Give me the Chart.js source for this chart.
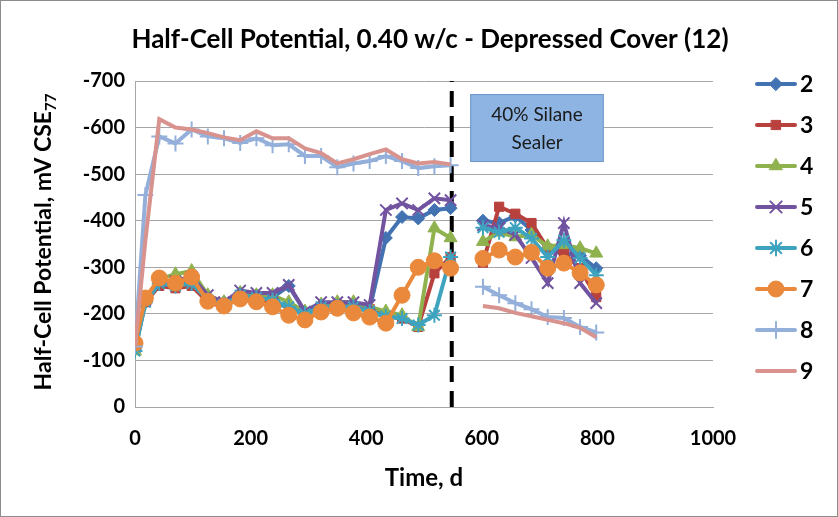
<!DOCTYPE html>
<html>
<head>
<meta charset="utf-8">
<script src="https://cdn.jsdelivr.net/npm/chart.js@4/dist/chart.umd.min.js"></script>
<style>
  html, body { margin: 0; padding: 0; background: #fff; }
  #wrap { width: 838px; height: 517px; }
</style>
</head>
<body>
<div id="wrap"><canvas id="grafico"></canvas></div>
<script>
// days (null entry = break between the two test periods)
const dias = [0, 18, 42, 70, 98, 126, 154, 182, 210, 238, 266, 294, 322, 350, 378, 406, 434, 462, 490, 518, 546,
  574,
  602, 630, 658, 686, 714, 742, 770, 798];

const serie2 = [-125, -225, -265, -265, -270, -235, -225, -245, -240, -235, -260, -205, -215, -215, -215, -210, -363, -408, -405, -423, -427,
  null, -400, -395, -410, -380, -340, -330, -325, -298];
const serie3 = [-130, -225, -260, -255, -260, -225, -215, -235, -230, -225, -215, -200, -215, -220, -215, -210, -195, -190, -172, -287, -322,
  null, -310, -430, -415, -395, -340, -330, -298, -236];
const serie4 = [-120, -230, -275, -285, -292, -240, -225, -245, -240, -240, -225, -205, -220, -225, -225, -215, -205, -197, -172, -384, -363,
  null, -355, -375, -365, -370, -345, -348, -341, -330];
const serie5 = [-130, -230, -270, -270, -280, -240, -225, -250, -245, -245, -262, -205, -225, -225, -225, -219, -423, -437, -423, -448, -444,
  null, -390, -385, -370, -320, -266, -395, -266, -223];
const serie6 = [-120, -225, -265, -260, -265, -230, -220, -240, -235, -230, -215, -200, -215, -215, -215, -205, -195, -190, -176, -197, -322,
  null, -385, -375, -385, -362, -322, -358, -320, -283];
const serie7 = [-137, -234, -277, -266, -279, -227, -217, -232, -226, -215, -197, -187, -204, -212, -202, -193, -180, -240, -300, -314, -298,
  null, -319, -337, -322, -332, -298, -309, -288, -262];
const serie8 = [-130, -455, -581, -566, -596, -581, -577, -567, -577, -562, -564, -539, -539, -515, -523, -528, -539, -528, -513, -517, -519,
  null, -258, -240, -223, -210, -193, -191, -172, -160];
const serie9 = [-130, -358, -618, -600, -596, -588, -579, -573, -592, -577, -577, -555, -545, -523, -532, -543, -553, -532, -523, -526, -521,
  null, -217, -212, -202, -195, -187, -180, -170, -150];

const nomes = ['2', '3', '4', '5', '6', '7', '8', '9'];
const valores = [serie2, serie3, serie4, serie5, serie6, serie7, serie8, serie9];
const cores = ['#4272b2', '#b8413e', '#8fb24f', '#7153a0', '#3ea3bf', '#ea893b', '#94b0da', '#d9938f'];
const marcadores = ['rectRot', 'rect', 'triangle', 'crossRot', 'star', 'circle', 'cross', false];
const tamanhos = [6.5, 6.5, 7.5, 8, 7.5, 8, 8, 0];

const diaSelante = 548;           // dashed line
const eixoY = [-700, 0];
const eixoX = [0, 1000];

const fonte = 'Lato, "Liberation Sans", sans-serif';

function pontos(vals) {
  return dias.map((d, i) => ({ x: d, y: vals[i] }));
}

const datasets = valores.map((vals, i) => {
  const cruz = marcadores[i] === 'crossRot' || marcadores[i] === 'cross' || marcadores[i] === 'star';
  return {
    label: nomes[i],
    data: pontos(vals),
    borderColor: cores[i],
    backgroundColor: cores[i],
    borderWidth: 4,
    pointStyle: marcadores[i],
    pointRadius: tamanhos[i],
    pointBorderWidth: cruz ? 2 : 1,
    pointBackgroundColor: cores[i],
    pointBorderColor: cores[i],
    showLine: true,
    spanGaps: false,
    tension: 0
  };
});

// reverse draw order so series 2 ends up on top like the original
datasets.reverse();

datasets.push({
  label: 'selante',
  data: [{ x: diaSelante, y: eixoY[1] }, { x: diaSelante, y: eixoY[0] }],
  borderColor: '#000',
  borderWidth: 4,
  borderDash: [16, 9],
  pointRadius: 0,
  showLine: true
});

// text box, legend, titles, outer border
const extras = {
  id: 'extras',
  afterDatasetsDraw(chart) {
    const ctx = chart.ctx;
    const xs = chart.scales.x, ys = chart.scales.y;
    // box "40% Silane Sealer"
    const bx1 = xs.getPixelForValue(580), bx2 = xs.getPixelForValue(811);
    const by1 = ys.getPixelForValue(-672), by2 = ys.getPixelForValue(-526);
    ctx.save();
    ctx.fillStyle = '#8db4e2';
    ctx.strokeStyle = '#6f97c9';
    ctx.lineWidth = 1;
    ctx.fillRect(bx1, by1, bx2 - bx1, by2 - by1);
    ctx.strokeRect(bx1 + 0.5, by1 + 0.5, bx2 - bx1 - 1, by2 - by1 - 1);
    ctx.fillStyle = '#1a1a1a';
    ctx.font = '19px ' + fonte;
    ctx.textAlign = 'center';
    ctx.textBaseline = 'middle';
    const cx = (bx1 + bx2) / 2;
    ctx.fillText('40% Silane', cx, by1 + 21);
    ctx.fillText('Sealer', cx, by1 + 49);
    ctx.restore();
  },
  afterDraw(chart) {
    const ctx = chart.ctx;
    ctx.save();
    // title
    ctx.fillStyle = '#000';
    ctx.textAlign = 'center';
    ctx.textBaseline = 'middle';
    ctx.font = 'bold 26px ' + fonte;
    ctx.fillText('Half-Cell Potential, 0.40 w/c - Depressed Cover (12)', 430, 40);
    // x title
    ctx.font = 'bold 24px ' + fonte;
    ctx.fillText('Time, d', 424, 478);
    // y title with subscript
    ctx.translate(44, 242);
    ctx.rotate(-Math.PI / 2);
    const t1 = 'Half-Cell Potential, mV CSE';
    ctx.font = 'bold 23px ' + fonte;
    const w1 = ctx.measureText(t1).width;
    ctx.font = 'bold 15px ' + fonte;
    const w2 = ctx.measureText('77').width;
    const start = -(w1 + w2) / 2;
    ctx.textAlign = 'left';
    ctx.font = 'bold 23px ' + fonte;
    ctx.fillText(t1, start, 0);
    ctx.font = 'bold 15px ' + fonte;
    ctx.fillText('77', start + w1, 7);
    ctx.restore();

    // legend
    nomes.forEach((nome, i) => {
      const y = 84 + i * 41;
      ctx.save();
      ctx.strokeStyle = cores[i];
      ctx.fillStyle = cores[i];
      ctx.lineWidth = 4;
      ctx.lineCap = 'round';
      ctx.beginPath();
      ctx.moveTo(757, y);
      ctx.lineTo(795, y);
      ctx.stroke();
      if (marcadores[i] && Chart.helpers && Chart.helpers.drawPoint) {
        const cruz = marcadores[i] === 'crossRot' || marcadores[i] === 'cross' || marcadores[i] === 'star';
        ctx.lineWidth = cruz ? 2 : 1;
        Chart.helpers.drawPoint(ctx, { pointStyle: marcadores[i], radius: tamanhos[i], rotation: 0, borderWidth: ctx.lineWidth }, 776, y);
      }
      ctx.fillStyle = '#000';
      ctx.font = 'bold 23px ' + fonte;
      ctx.textAlign = 'left';
      ctx.textBaseline = 'middle';
      ctx.fillText(nome, 800, y + 1);
      ctx.restore();
    });

    // outer border
    ctx.save();
    ctx.strokeStyle = '#8c8c8c';
    ctx.lineWidth = 1;
    ctx.strokeRect(0.5, 0.5, chart.width - 1, chart.height - 1);
    ctx.restore();
  }
};

new Chart(document.getElementById('grafico'), {
  type: 'scatter',
  data: { datasets: datasets },
  options: {
    responsive: true,
    maintainAspectRatio: false,
    animation: false,
    layout: { padding: { top: 81, right: 125, left: 0, bottom: 0 } },
    plugins: { legend: { display: false }, tooltip: { enabled: false } },
    scales: {
      x: {
        type: 'linear',
        min: eixoX[0], max: eixoX[1],
        afterFit: s => { s.height = 110; },
        ticks: { stepSize: 200, color: '#000', font: { family: fonte, size: 20, weight: 'bold' }, padding: 12,
          callback: v => String(v) },
        grid: { display: false, color: '#a6a6a6' },
        border: { color: '#a6a6a6', width: 1 }
      },
      y: {
        type: 'linear',
        reverse: true,
        min: eixoY[0], max: eixoY[1],
        afterFit: s => { s.width = 135; },
        ticks: { stepSize: 100, color: '#000', font: { family: fonte, size: 20, weight: 'bold' }, padding: 10,
          callback: v => String(v) },
        grid: { color: '#a6a6a6', lineWidth: 1, drawTicks: false },
        border: { color: '#a6a6a6', width: 1 }
      }
    }
  },
  plugins: [extras]
});
</script>
</body>
</html>
